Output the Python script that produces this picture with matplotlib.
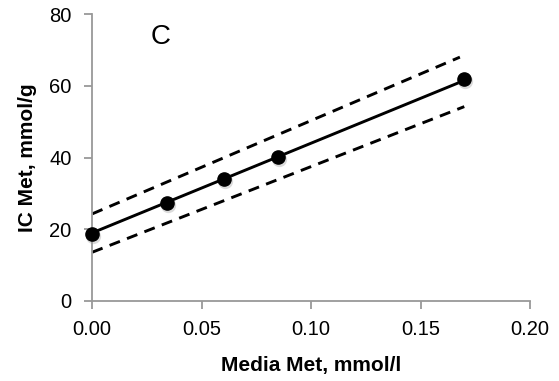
import matplotlib.pyplot as plt
from matplotlib import transforms

# data
media_met = [0.0, 0.034, 0.060, 0.085, 0.170]
ic_met = [18.8, 27.2, 34.0, 40.2, 61.8]

# regression line and confidence bands (end points)
fit_x = [0.0, 0.170]
fit_y = [19.0, 61.5]
upper_x = [0.0, 0.168]
upper_y = [24.3, 68.0]
lower_x = [0.0, 0.170]
lower_y = [13.6, 54.2]

plt.rcParams['font.family'] = ['Liberation Sans', 'DejaVu Sans']

fig = plt.figure(figsize=(5.59, 3.81), dpi=100)
ax = fig.add_axes([0.165, 0.21, 0.783, 0.753])

ax.plot(upper_x, upper_y, color='black', lw=2.1, ls=(0, (3.8, 2.6)))
ax.plot(lower_x, lower_y, color='black', lw=2.1, ls=(0, (3.8, 2.6)))
ax.plot(fit_x, fit_y, color='black', lw=2.1)

# soft shadow under the markers
shadow = ax.transData + transforms.ScaledTranslation(1/100, -2/100, fig.dpi_scale_trans)
ax.plot(media_met, ic_met, 'o', color='#999999', ms=11, alpha=0.35,
        markeredgewidth=0, clip_on=False, transform=shadow)
ax.plot(media_met, ic_met, 'o', color='black', ms=9.5, clip_on=False, zorder=5)

ax.text(0.0265, 73.5, 'C', fontsize=20, ha='left', va='center')

ax.set_xlim(0, 0.20)
ax.set_ylim(0, 80)
ax.set_xticks([0, 0.05, 0.10, 0.15, 0.20])
ax.set_xticklabels(['0.00', '0.05', '0.10', '0.15', '0.20'])
ax.set_yticks([0, 20, 40, 60, 80])

for s in ['top', 'right']:
    ax.spines[s].set_visible(False)
for s in ['left', 'bottom']:
    ax.spines[s].set_color('#999999')
    ax.spines[s].set_linewidth(1.3)
ax.tick_params(colors='#999999', labelcolor='black', length=6, width=1.3,
               labelsize=14.5)
ax.tick_params(axis='x', pad=8)
ax.tick_params(axis='y', pad=9)

ax.set_xlabel('Media Met, mmol/l', fontsize=15, fontweight='bold', labelpad=12)
ax.set_ylabel('IC Met, mmol/g', fontsize=15, fontweight='bold', labelpad=9)

plt.savefig('out.png', dpi=100)
